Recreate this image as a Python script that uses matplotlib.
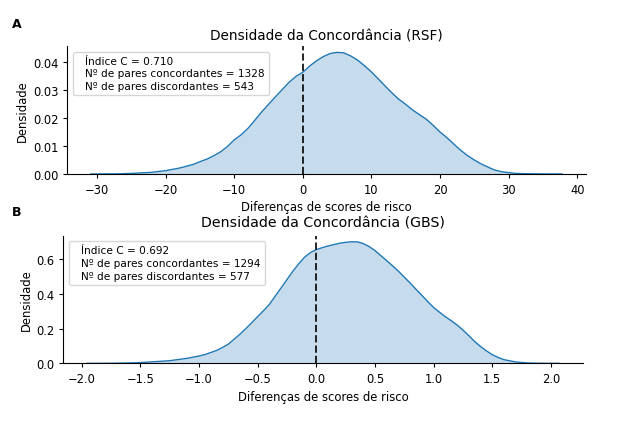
import matplotlib
matplotlib.use("Agg")
import matplotlib.pyplot as plt
from matplotlib.lines import Line2D

# Panel A (RSF) density curve
rsf_x = [-30.9, -27, -25, -22, -20, -18, -16, -15, -14, -13, -12, -11, -10, -9, -8, -7, -6,
         -5, -4, -3, -2, -1, 0, 1, 2, 3, 4, 5, 6, 7, 8, 9, 10, 11, 12.5, 13, 14, 15, 16,
         17.5, 18, 19, 20, 21, 22.5, 23, 24, 25, 26, 27.5, 28, 29, 30, 31, 32.5, 35, 37.8]
rsf_y = [0, 0.00005, 0.0002, 0.0006, 0.0012, 0.0021, 0.0034, 0.0044, 0.0053, 0.0065,
         0.0079, 0.0098, 0.0122, 0.0140, 0.0163, 0.0192, 0.0222, 0.0249, 0.0276, 0.0302,
         0.0328, 0.0349, 0.0364, 0.0386, 0.0405, 0.0420, 0.0431, 0.0435, 0.0433, 0.0422,
         0.0407, 0.0387, 0.0365, 0.0340, 0.0302, 0.0290, 0.0267, 0.0249, 0.0229, 0.0204,
         0.0196, 0.0174, 0.0150, 0.0130, 0.0096, 0.0085, 0.0066, 0.0050, 0.0036, 0.0019,
         0.0014, 0.0008, 0.0005, 0.0002, 0.0001, 0.00002, 0]
rsf_legend = ["Índice C = 0.710", "Nº de pares concordantes = 1328", "Nº de pares discordantes = 543"]

# Panel B (GBS) density curve
gbs_x = [-1.955, -1.75, -1.6, -1.5, -1.25, -1.1, -1.0, -0.95, -0.9, -0.85, -0.8, -0.75,
         -0.7, -0.65, -0.6, -0.55, -0.5, -0.45, -0.4, -0.35, -0.3, -0.25, -0.2, -0.15,
         -0.1, -0.05, 0.0, 0.05, 0.1, 0.15, 0.2, 0.25, 0.3, 0.35, 0.4, 0.45, 0.5, 0.55,
         0.6, 0.65, 0.7, 0.75, 0.8, 0.85, 0.9, 0.95, 1.0, 1.05, 1.1, 1.15, 1.2, 1.25,
         1.3, 1.35, 1.4, 1.45, 1.5, 1.55, 1.6, 1.7, 1.8, 1.9, 2.07]
gbs_y = [0, 0.0005, 0.002, 0.004, 0.015, 0.029, 0.042, 0.050, 0.062, 0.074, 0.091, 0.110,
         0.139, 0.168, 0.200, 0.234, 0.269, 0.303, 0.339, 0.387, 0.434, 0.482, 0.530,
         0.573, 0.611, 0.638, 0.655, 0.666, 0.676, 0.684, 0.692, 0.697, 0.700, 0.700,
         0.690, 0.673, 0.650, 0.621, 0.592, 0.562, 0.531, 0.497, 0.463, 0.427, 0.392,
         0.356, 0.322, 0.295, 0.269, 0.246, 0.221, 0.192, 0.160, 0.126, 0.097, 0.072,
         0.050, 0.034, 0.021, 0.008, 0.002, 0.0005, 0]
gbs_legend = ["Índice C = 0.692", "Nº de pares concordantes = 1294", "Nº de pares discordantes = 577"]

rsf_xticks = [-30, -20, -10, 0, 10, 20, 30, 40]
rsf_yticks = [0.00, 0.01, 0.02, 0.03, 0.04]
gbs_xticks = [-2.0, -1.5, -1.0, -0.5, 0.0, 0.5, 1.0, 1.5, 2.0]
gbs_yticks = [0.0, 0.2, 0.4, 0.6]

blue = "#1f77b4"
fig = plt.figure(figsize=(6.42, 4.31), dpi=100)

axA = fig.add_axes([0.1048, 0.594, 0.8075, 0.2963])
axB = fig.add_axes([0.0986, 0.1547, 0.809, 0.296])

def panel(ax, x, y, xticks, yticks, yfmt, xfmt, title, leg, tsize, tpad):
    ax.fill_between(x, y, 0, color=blue, alpha=0.25, linewidth=0)
    ax.plot(x, y, color=blue, linewidth=1.0)
    ax.axvline(0, color="k", linestyle="--", linewidth=1.4, alpha=0.85)
    ax.set_xticks(xticks)
    ax.set_yticks(yticks)
    ax.set_yticklabels([yfmt.format(v) for v in yticks])
    ax.set_xticklabels([xfmt.format(v).replace("-", "\u2212") for v in xticks])
    ax.margins(x=0.05)
    ax.set_ylim(0, max(y) * 1.05)
    ax.tick_params(labelsize=8.3, length=3)
    ax.set_xlabel("Diferenças de scores de risco", fontsize=8.4, labelpad=3)
    ax.set_ylabel("Densidade", fontsize=8.4, labelpad=2.5)
    ax.set_title(title, fontsize=tsize, pad=tpad)
    for s in ["top", "right"]:
        ax.spines[s].set_visible(False)
    handles = [Line2D([], [], linestyle="none") for _ in leg]
    ax.legend(handles, leg, loc="upper left", handlelength=0, fontsize=7.6,
              frameon=True, labelspacing=0.25)

panel(axA, rsf_x, rsf_y, rsf_xticks, rsf_yticks, "{:.2f}", "{:d}",
      "Densidade da Concordância (RSF)", rsf_legend, 9.8, 5)
panel(axB, gbs_x, gbs_y, gbs_xticks, gbs_yticks, "{:.1f}", "{:.1f}",
      "Densidade da Concordância (GBS)", gbs_legend, 10.2, 7)

fig.text(17 / 642, 1 - 25 / 431, "A", fontsize=9, fontweight="bold", ha="center", va="center")
fig.text(17 / 642, 1 - 213 / 431, "B", fontsize=9, fontweight="bold", ha="center", va="center")

fig.savefig("out.png", dpi=100)
